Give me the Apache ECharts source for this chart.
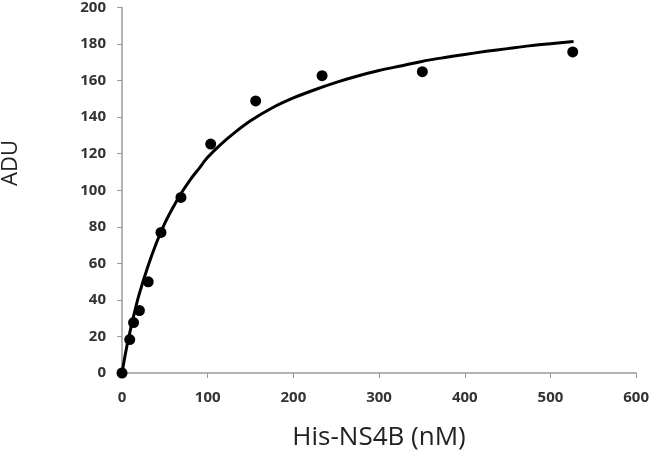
<!DOCTYPE html>
<html>
<head>
<meta charset="utf-8">
<script src="https://cdn.jsdelivr.net/npm/echarts@6/dist/echarts.min.js"></script>
<style>
html,body{margin:0;padding:0;background:#fff;}
#chart{width:652px;height:458px;}
</style>
</head>
<body>
<div id="chart"></div>
<script>
// Measured data points (His-NS4B nM, ADU)
const concX = [0, 9, 13.5, 20.3, 30.6, 45.5, 68.8, 103.5, 156, 233.5, 350.5, 526];
const aduY  = [0, 18.3, 27.6, 34.2, 49.9, 76.9, 96.1, 125.3, 148.9, 162.7, 164.9, 175.7];
// Fitted curve
const fitX = [0, 5, 10, 15, 20, 30, 40, 50, 60, 70, 80, 90, 100, 115, 130, 150, 175, 200, 225, 250, 275, 300, 325, 350, 375, 400, 425, 450, 475, 500, 527];
const fitY = [0, 13, 24, 34, 43, 58, 71, 82, 91, 99, 106, 112, 118, 125, 131, 138, 145, 150.5, 155, 159, 162.5, 165.5, 168, 170.5, 172.5, 174.3, 176, 177.5, 179, 180.2, 181.4];
const xTitle = 'His-NS4B (nM)';
const yTitle = 'ADU';

const chart = echarts.init(document.getElementById('chart'));
const labelStyle = {color:'#333', fontWeight:'bold', fontSize:15, fontFamily:'Open Sans'};
chart.setOption({
  animation:false,
  grid:{left:122, right:15, top:7, bottom:85, containLabel:false},
  xAxis:{
    type:'value', min:0, max:600, interval:100,
    axisLine:{lineStyle:{color:'#999', width:1.5}},
    axisTick:{show:true, length:5, lineStyle:{color:'#999'}},
    splitLine:{show:false},
    axisLabel:Object.assign({margin:17}, labelStyle),
    name:xTitle, nameLocation:'middle', nameGap:52,
    nameTextStyle:{fontSize:26, color:'#222', fontFamily:'Open Sans'}
  },
  yAxis:{
    type:'value', min:0, max:200, interval:20,
    axisLine:{show:true, lineStyle:{color:'#999', width:1.5}},
    axisTick:{show:true, inside:false, length:5, lineStyle:{color:'#999'}},
    splitLine:{show:false},
    axisLabel:Object.assign({margin:16}, labelStyle)
  },
  graphic:[{
    type:'text', left:0, top:140, rotation:Math.PI/2,
    style:{text:yTitle, fontSize:22, fill:'#222', fontFamily:'Open Sans'}
  }],
  series:[
    {
      type:'line', data:fitX.map((x,i)=>[x, fitY[i]]), smooth:0.3,
      showSymbol:false, lineStyle:{color:'#000', width:3}, z:2
    },
    {
      type:'scatter', data:concX.map((x,i)=>[x, aduY[i]]),
      symbolSize:11, itemStyle:{color:'#000', opacity:1}, z:3
    }
  ]
});
</script>
</body>
</html>
